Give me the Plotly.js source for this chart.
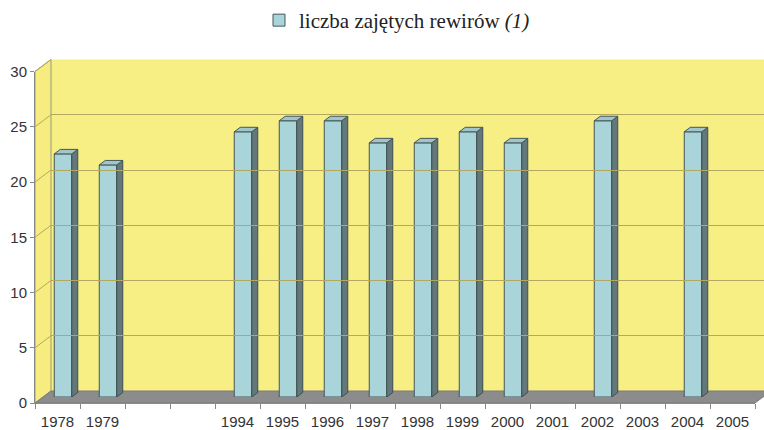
<!DOCTYPE html>
<html>
<head>
<meta charset="utf-8">
<script src="https://cdn.plot.ly/plotly-3.0.1.min.js"></script>
<style>html,body{margin:0;padding:0;background:#fff;}#chart{width:764px;height:430px;}</style>
</head>
<body>
<div id="chart"></div>
<script>
// ---- data ----
var categories = ['1978','1979',' ','  ','1994','1995','1996','1997','1998','1999','2000','2001','2002','2003','2004','2005'];
var territories = [22, 21, null, null, 24, 25, 25, 23, 23, 24, 23, null, 25, null, 24, null];
var seriesName = 'liczba zajętych rewirów <i>(1)</i>';
var yTicks = [0, 5, 10, 15, 20, 25, 30];

// ---- geometry helpers (pixels -> paper) ----
var W = 764, H = 430;
function X(px){ return px / W; }
function Y(py){ return 1 - py / H; }
var front = {x0: 35, x1: 755, yb: 403, yt: 71.5};
var back  = {x0: 51, yb: 391, yt: 59.5};
var yMax = 30;

// bar 3D geometry in data units
var slotPx = (front.x1 - front.x0) / categories.length;
var faceW = 17.5 / slotPx;
var depthX = 6 / slotPx;
var depthY = 4.5 / ((397 - 65.5) / yMax);

var idx = categories.map(function(c, i){ return i; });

var sideX = [], sideY = [], topX = [], topY = [];
territories.forEach(function(v, i){
  if (v === null) return;
  var xl = i - faceW / 2, xr = i + faceW / 2;
  sideX.push(xr, xr, xr + depthX, xr + depthX, xr, null);
  sideY.push(0, v, v + depthY, depthY, 0, null);
  topX.push(xl, xr, xr + depthX, xl + depthX, xl, null);
  topY.push(v, v, v + depthY, v + depthY, v, null);
});

var traces = [
  {type: 'scatter', x: [0], y: [null], xaxis: 'x3', yaxis: 'y3', showlegend: false, hoverinfo: 'skip'},
  {type: 'scatter', x: categories, y: categories.map(function(){return null;}), xaxis: 'x2', yaxis: 'y2', showlegend: false, hoverinfo: 'skip'},
  {type: 'bar', x: idx, y: territories, width: faceW, name: seriesName,
   marker: {color: '#A9D4D9', line: {color: '#44575A', width: 1}}, showlegend: true},
  {type: 'scatter', x: sideX, y: sideY, mode: 'lines', fill: 'toself', fillcolor: '#63787B',
   line: {color: '#3F4E50', width: 1}, showlegend: false, hoverinfo: 'skip'},
  {type: 'scatter', x: topX, y: topY, mode: 'lines', fill: 'toself', fillcolor: '#A2C5C9',
   line: {color: '#44575A', width: 1}, showlegend: false, hoverinfo: 'skip'}
];

// ---- frame decorations ----
var yellow = '#F7EE84';
var grid = '#B2A862';
var shapes = [
  {type: 'rect', xref: 'paper', yref: 'paper', layer: 'below',
   x0: X(back.x0), x1: X(790), y0: Y(back.yb), y1: Y(back.yt), fillcolor: yellow, line: {width: 0}},
  {type: 'path', xref: 'paper', yref: 'paper', layer: 'below',
   path: 'M' + X(front.x0) + ',' + Y(front.yb) + ' L' + X(front.x0) + ',' + Y(front.yt) +
         ' L' + X(back.x0) + ',' + Y(back.yt) + ' L' + X(back.x0) + ',' + Y(back.yb) + ' Z',
   fillcolor: '#F6EC80', line: {color: '#9A9A7A', width: 1}},
  {type: 'path', xref: 'paper', yref: 'paper', layer: 'below',
   path: 'M' + X(front.x0) + ',' + Y(front.yb) + ' L' + X(back.x0) + ',' + Y(back.yb) +
         ' L' + X(790) + ',' + Y(back.yb) + ' L' + X(front.x1 + 24) + ',' + Y(front.yb - 18) +
         ' L' + X(front.x1) + ',' + Y(front.yb) + ' Z',
   fillcolor: '#8C8C8C', line: {color: '#7A7A7A', width: 1}}
];
yTicks.forEach(function(v){
  if (v === 0) return;
  var yf = front.yb - (front.yb - front.yt) * v / yMax;
  var yb = back.yb - (back.yb - back.yt) * v / yMax;
  shapes.push({type: 'line', xref: 'paper', yref: 'paper', layer: 'below',
    x0: X(front.x0), y0: Y(yf), x1: X(back.x0), y1: Y(yb), line: {color: grid, width: 1}});
});

var tickFont = {family: 'Liberation Sans', size: 15, color: '#333333'};

var layout = {
  width: W, height: H,
  margin: {l: 0, r: 0, t: 0, b: 0},
  paper_bgcolor: '#FFFFFF',
  plot_bgcolor: 'rgba(0,0,0,0)',
  showlegend: true,
  legend: {orientation: 'h', x: X(259), xanchor: 'left', y: Y(0), yanchor: 'top',
           font: {family: 'Liberation Serif', size: 21, color: '#222'},
           bgcolor: 'rgba(0,0,0,0)'},
  xaxis: {domain: [X(front.x0 + 5.5), X(front.x1 + 5.5)], range: [-0.5, categories.length - 0.5],
          visible: false, fixedrange: true, anchor: 'y'},
  yaxis: {domain: [Y(397), Y(65.5)], range: [0, yMax], visible: false, fixedrange: true, anchor: 'x'},
  xaxis2: {domain: [X(front.x0), X(front.x1)], type: 'category', categoryorder: 'array', categoryarray: categories,
           range: [-0.5, categories.length - 0.5], anchor: 'y2', tickson: 'boundaries',
           ticks: 'outside', ticklen: 5, tickcolor: '#8A8A8A', showline: true, linecolor: '#8A8A8A',
           ticklabelstandoff: 5,
           showgrid: false, zeroline: false, tickfont: tickFont, fixedrange: true},
  yaxis2: {domain: [Y(front.yb), Y(front.yt)], range: [0, yMax], tickvals: yTicks, anchor: 'x2',
           ticks: 'outside', ticklen: 4, tickcolor: '#8A8A8A', showline: true, linecolor: '#8A8A8A',
           showgrid: false, zeroline: false, tickfont: tickFont, fixedrange: true},
  xaxis3: {domain: [X(back.x0), 1], range: [0, 1], visible: false, anchor: 'y3', fixedrange: true},
  yaxis3: {domain: [Y(back.yb), Y(back.yt)], range: [0, yMax], tickvals: yTicks, anchor: 'x3',
           showgrid: true, gridcolor: grid, gridwidth: 1, showticklabels: false, ticks: '',
           showline: false, zeroline: false, fixedrange: true},
  shapes: shapes,
  bargap: 0
};

Plotly.newPlot('chart', traces, layout, {displayModeBar: false, staticPlot: true});
</script>
</body>
</html>
